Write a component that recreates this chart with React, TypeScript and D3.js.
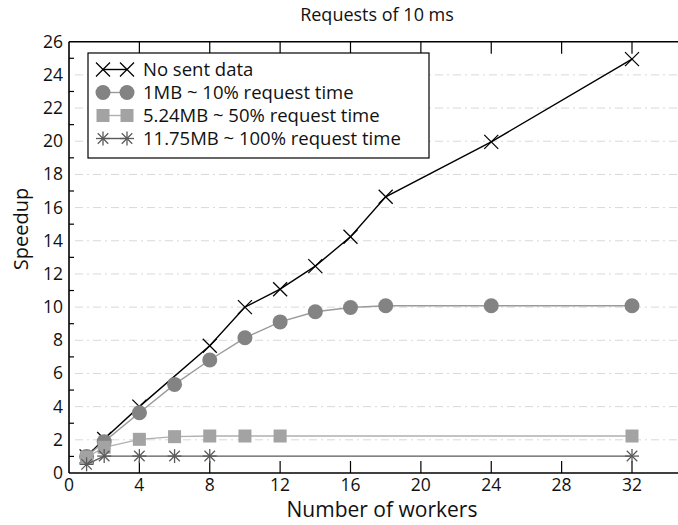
import React from "react";
import * as d3 from "d3";

const title = "Requests of 10 ms";
const xLabel = "Number of workers";
const yLabel = "Speedup";

const workersA = [1, 2, 4, 8, 10, 12, 14, 16, 18, 24, 32];
const noSentData = [1.0, 2.05, 4.0, 7.67, 10.0, 11.08, 12.47, 14.24, 16.65, 19.96, 24.95];

const workersB = [1, 2, 4, 6, 8, 10, 12, 14, 16, 18, 24, 32];
const oneMB = [1.0, 1.89, 3.63, 5.34, 6.81, 8.15, 9.11, 9.72, 9.98, 10.08, 10.08, 10.08];

const workersC = [1, 2, 4, 6, 8, 10, 12, 32];
const fiveMB = [0.95, 1.55, 2.03, 2.19, 2.23, 2.23, 2.23, 2.23];

const workersD = [1, 2, 4, 6, 8, 32];
const elevenMB = [0.52, 1.02, 1.02, 1.02, 1.02, 1.02];

const legendLabels = [
  "No sent data",
  "1MB ~ 10% request time",
  "5.24MB ~ 50% request time",
  "11.75MB ~ 100% request time",
];

const xTicks = [0, 4, 8, 12, 16, 20, 24, 28, 32];
const yTicks = [0, 2, 4, 6, 8, 10, 12, 14, 16, 18, 20, 22, 24, 26];
const yMinorTicks = [1, 3, 5, 7, 9, 11, 13, 15, 17, 19, 21, 23, 25];

const W = 678;
const H = 525;
const FONT = "'Open Sans', sans-serif";

type Series = {
  xs: number[];
  ys: number[];
  marker: "x" | "circle" | "square" | "star";
  line: string;
  fill: string;
  label: string;
};

const series: Series[] = [
  { xs: workersA, ys: noSentData, marker: "x", line: "#000", fill: "#000", label: legendLabels[0] },
  { xs: workersB, ys: oneMB, marker: "circle", line: "#9a9a9a", fill: "#838383", label: legendLabels[1] },
  { xs: workersC, ys: fiveMB, marker: "square", line: "#b0b0b0", fill: "#a3a3a3", label: legendLabels[2] },
  { xs: workersD, ys: elevenMB, marker: "star", line: "#5a5a5a", fill: "#5a5a5a", label: legendLabels[3] },
];

function Marker({ kind, x, y, color }: { kind: string; x: number; y: number; color: string }) {
  if (kind === "circle") return <circle cx={x} cy={y} r={7.5} fill={color} />;
  if (kind === "square") return <rect x={x - 6.5} y={y - 6.5} width={13} height={13} fill={color} />;
  if (kind === "x") {
    const s = 7;
    return (
      <g stroke={color} strokeWidth={1.3}>
        <line x1={x - s} y1={y - s} x2={x + s} y2={y + s} />
        <line x1={x - s} y1={y + s} x2={x + s} y2={y - s} />
      </g>
    );
  }
  const s = 7;
  const d = s * 0.75;
  return (
    <g stroke={color} strokeWidth={1.3}>
      <line x1={x - s} y1={y} x2={x + s} y2={y} />
      <line x1={x} y1={y - s} x2={x} y2={y + s} />
      <line x1={x - d} y1={y - d} x2={x + d} y2={y + d} />
      <line x1={x - d} y1={y + d} x2={x + d} y2={y - d} />
    </g>
  );
}

export default function App() {
  const left = 69;
  const top = 41.7;
  const bottom = 473;
  const x = d3.scaleLinear().domain([0, 32]).range([left, 632]);
  const y = d3.scaleLinear().domain([0, 26]).range([bottom, top]);
  const xEnd = x(36);

  const line = d3
    .line<[number, number]>()
    .x((d) => x(d[0]))
    .y((d) => y(d[1]));

  const legX = 88;
  const legY = 53;
  const legW = 341;
  const legH = 105;

  return (
    <svg
      width={W}
      height={H}
      style={{ position: "absolute", left: 0, top: 0, background: "#fff" }}
      fontFamily={FONT}
    >
      <rect width={W} height={H} fill="#fff" />
      {/* gridlines */}
      {yTicks
        .filter((t) => t > 0 && t < 26)
        .map((t) => (
          <line
            key={"g" + t}
            x1={left + 6}
            x2={W}
            y1={y(t)}
            y2={y(t)}
            stroke="#d8d8d8"
            strokeWidth={1}
            strokeDasharray="8,4,2,4"
          />
        ))}
      {/* minor y ticks */}
      {yMinorTicks.map((t) => (
        <line key={"m" + t} x1={left} x2={left + 5} y1={y(t)} y2={y(t)} stroke="#000" strokeWidth={1.2} />
      ))}
      {/* x ticks bottom and top */}
      {xTicks
        .filter((t) => t > 0)
        .map((t) => (
          <g key={"xt" + t} stroke="#000" strokeWidth={1.2}>
            <line x1={x(t)} x2={x(t)} y1={bottom} y2={bottom - 12} />
            <line x1={x(t)} x2={x(t)} y1={top} y2={top + 12} />
          </g>
        ))}
      {/* frame */}
      <line x1={left} x2={xEnd} y1={bottom} y2={bottom} stroke="#000" strokeWidth={1.6} />
      <line x1={left} x2={xEnd} y1={top} y2={top} stroke="#000" strokeWidth={1.4} />
      <line x1={left} x2={left} y1={top} y2={bottom} stroke="#000" strokeWidth={1.6} />

      {/* tick labels */}
      {xTicks.map((t) => (
        <text key={"xl" + t} x={x(t)} y={491} textAnchor="middle" fontSize={17.5} fill="#111">
          {t}
        </text>
      ))}
      {yTicks.map((t) => (
        <text key={"yl" + t} x={63} y={y(t) + 6} textAnchor="end" fontSize={17.5} fill="#111">
          {t}
        </text>
      ))}

      {/* series */}
      {series.map((s, i) => {
        const pts = s.xs.map((v, j) => [v, s.ys[j]] as [number, number]);
        return (
          <g key={"s" + i}>
            <path d={line(pts) || ""} fill="none" stroke={s.line} strokeWidth={1.4} />
            {pts.map((p, j) => (
              <Marker key={j} kind={s.marker} x={x(p[0])} y={y(p[1])} color={s.fill} />
            ))}
          </g>
        );
      })}

      {/* legend */}
      <rect x={legX} y={legY} width={legW} height={legH} fill="#fff" stroke="#000" strokeWidth={1.2} />
      {series.map((s, i) => {
        const cy = 69.5 + i * 23;
        return (
          <g key={"l" + i}>
            <line x1={103} x2={127} y1={cy} y2={cy} stroke={s.line} strokeWidth={1.4} />
            <Marker kind={s.marker} x={103} y={cy} color={s.fill} />
            <Marker kind={s.marker} x={127} y={cy} color={s.fill} />
            <text x={143} y={cy + 6.5} fontSize={18.5} fill="#111">
              {s.label}
            </text>
          </g>
        );
      })}

      {/* titles */}
      <text x={377} y={21} textAnchor="middle" fontSize={18} fill="#111">
        {title}
      </text>
      <text x={382} y={517} textAnchor="middle" fontSize={21} fill="#111">
        {xLabel}
      </text>
      <text
        transform={`translate(28, 229) rotate(-90)`}
        textAnchor="middle"
        fontSize={20}
        fill="#111"
      >
        {yLabel}
      </text>
    </svg>
  );
}
